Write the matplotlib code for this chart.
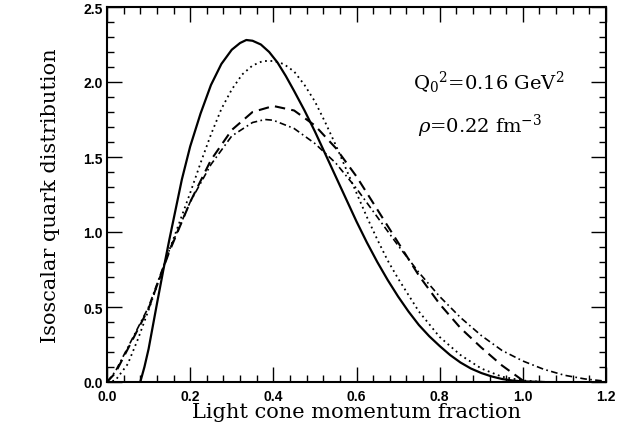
import matplotlib
matplotlib.use("Agg")
import matplotlib.pyplot as plt
from matplotlib.ticker import MultipleLocator

# --- data ---
x_solid = [0.08, 0.09, 0.10, 0.11, 0.12, 0.135, 0.15, 0.165, 0.18, 0.20, 0.225, 0.25, 0.275, 0.30, 0.32, 0.335,
           0.35, 0.37, 0.39, 0.41, 0.43, 0.45, 0.475, 0.50, 0.525, 0.55, 0.575, 0.60, 0.625, 0.65, 0.675, 0.70,
           0.725, 0.75, 0.775, 0.80, 0.825, 0.85, 0.875, 0.90, 0.925, 0.95, 0.975, 1.00, 1.05]
y_solid = [0.00, 0.10, 0.22, 0.37, 0.52, 0.74, 0.95, 1.15, 1.35, 1.57, 1.79, 1.98, 2.12, 2.215, 2.26, 2.28,
           2.275, 2.25, 2.20, 2.13, 2.04, 1.94, 1.81, 1.67, 1.52, 1.37, 1.22, 1.07, 0.93, 0.80, 0.68, 0.57,
           0.47, 0.38, 0.305, 0.24, 0.18, 0.13, 0.09, 0.06, 0.037, 0.02, 0.01, 0.004, 0.0]

x_dot = [0.00, 0.02, 0.05, 0.075, 0.10, 0.125, 0.15, 0.175, 0.20, 0.225, 0.25, 0.275, 0.30, 0.325, 0.35, 0.375,
         0.40, 0.425, 0.45, 0.475, 0.50, 0.525, 0.55, 0.575, 0.60, 0.625, 0.65, 0.675, 0.70, 0.75, 0.80, 0.85,
         0.90, 0.95, 1.00, 1.05]
y_dot = [0.00, 0.01, 0.12, 0.29, 0.48, 0.68, 0.88, 1.07, 1.26, 1.46, 1.65, 1.82, 1.95, 2.05, 2.11, 2.14,
         2.14, 2.12, 2.07, 1.98, 1.87, 1.73, 1.58, 1.42, 1.26, 1.10, 0.95, 0.81, 0.69, 0.47, 0.30, 0.18,
         0.09, 0.035, 0.01, 0.0]

x_dash = [0.00, 0.02, 0.05, 0.10, 0.15, 0.20, 0.25, 0.30, 0.35, 0.40, 0.45, 0.50, 0.55, 0.60, 0.65, 0.70,
          0.75, 0.80, 0.85, 0.90, 0.95, 1.00]
y_dash = [0.00, 0.06, 0.22, 0.49, 0.87, 1.20, 1.48, 1.68, 1.80, 1.84, 1.81, 1.71, 1.56, 1.37, 1.15, 0.93,
          0.71, 0.52, 0.36, 0.23, 0.11, 0.01]

x_dd = [0.00, 0.02, 0.05, 0.10, 0.15, 0.20, 0.25, 0.30, 0.35, 0.38, 0.40, 0.45, 0.50, 0.55, 0.60, 0.65,
        0.70, 0.75, 0.80, 0.85, 0.90, 0.95, 1.00, 1.05, 1.10, 1.15, 1.20]
y_dd = [0.00, 0.07, 0.23, 0.50, 0.88, 1.20, 1.45, 1.64, 1.73, 1.75, 1.745, 1.69, 1.59, 1.46, 1.29, 1.10,
        0.91, 0.73, 0.57, 0.43, 0.31, 0.21, 0.14, 0.085, 0.045, 0.02, 0.005]

x_ticks = [0.0, 0.2, 0.4, 0.6, 0.8, 1.0, 1.2]
y_ticks = [0.0, 0.5, 1.0, 1.5, 2.0, 2.5]

plt.rcParams['mathtext.fontset'] = 'dejavuserif'

fig = plt.figure(figsize=(6.31, 4.27), dpi=100)
ax = fig.add_axes([107/631, 44/427, 499/631, 375/427])

ax.plot(x_solid, y_solid, color='black', lw=1.6, ls='-')
ax.plot(x_dot, y_dot, color='black', lw=1.3, ls=(0, (1, 2)))
ax.plot(x_dash, y_dash, color='black', lw=1.5, ls=(0, (5, 3)))
ax.plot(x_dd, y_dd, color='black', lw=1.2, ls=(0, (4, 2, 1, 2)))

ax.set_xlim(0, 1.2)
ax.set_ylim(0, 2.5)
ax.set_xticks(x_ticks)
ax.set_yticks(y_ticks)
ax.set_xticklabels([f"{v:.1f}" for v in x_ticks])
ax.set_yticklabels([f"{v:.1f}" for v in y_ticks])
ax.xaxis.set_minor_locator(MultipleLocator(0.04))
ax.yaxis.set_minor_locator(MultipleLocator(0.1))
ax.tick_params(which='both', direction='in', top=True, right=True, width=1.0)
ax.tick_params(which='major', length=10.5, labelsize=10)
ax.tick_params(which='minor', length=5)
ax.tick_params(axis='x', which='major', pad=5)
ax.tick_params(axis='y', which='major', pad=3)
for lab in ax.get_xticklabels() + ax.get_yticklabels():
    lab.set_fontweight('bold')
    lab.set_family('Liberation Sans')
for s in ax.spines.values():
    s.set_linewidth(1.5)

ax.set_xlabel("Light cone momentum fraction", family='DejaVu Serif', fontsize=15, labelpad=-1)
ax.set_ylabel("Isoscalar quark distribution", family='DejaVu Serif', fontsize=15, labelpad=17)

ax.text(0.736, 1.953, r"$\mathrm{Q_0}^{2}$=0.16 GeV$^{2}$", family='DejaVu Serif', fontsize=14,
        va='baseline', ha='left')
ax.text(0.748, 1.667, r"$\rho$=0.22 fm$^{-3}$", family='DejaVu Serif', fontsize=14,
        va='baseline', ha='left')

fig.savefig("out.png", dpi=100)
